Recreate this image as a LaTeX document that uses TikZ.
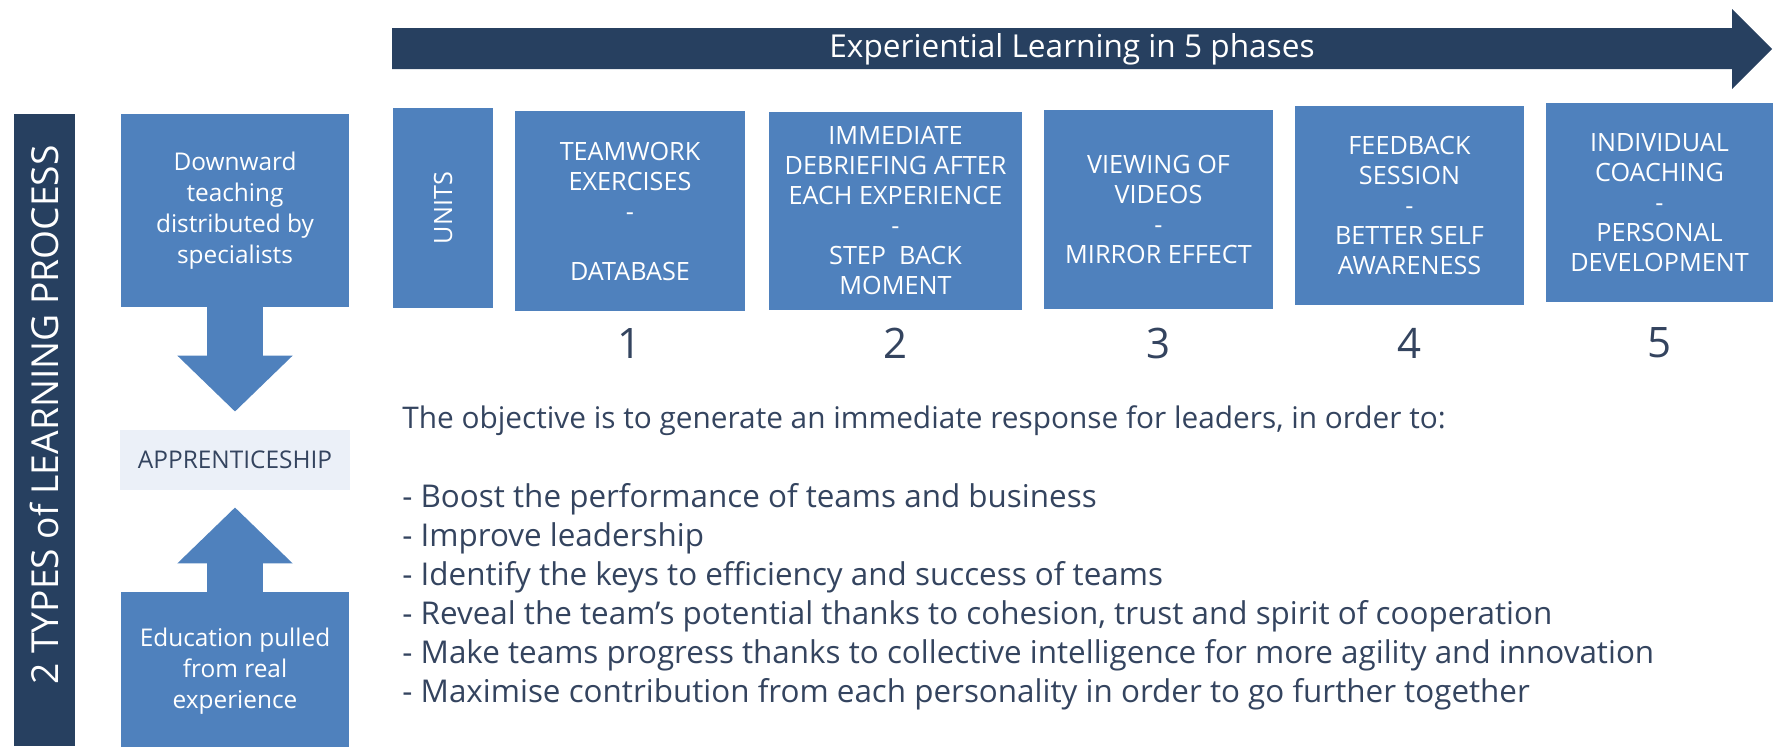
\documentclass[tikz,border=0pt]{standalone}
\usepackage{fontspec}
\setmainfont{Open Sans}
\usepackage{tikz}
\usetikzlibrary{arrows.meta}
\definecolor{navy}{RGB}{39,64,96}
\definecolor{boxblue}{RGB}{79,129,189}
\definecolor{paleblue}{RGB}{235,240,248}
\definecolor{inknavy}{RGB}{52,68,95}

\begin{document}
\begin{tikzpicture}[x=0.5pt,y=-0.5pt,
  phase/.style={fill=boxblue,text=white,align=center,inner sep=0pt,font=\fontsize{12.6}{15}\selectfont},
  side/.style={phase,minimum width=114pt,font=\fontsize{12.2}{15.5}\selectfont},
  num/.style={text=inknavy,font=\fontsize{21}{21}\selectfont},
  blockarrow/.style={boxblue,line width=28pt,-{Triangle[width=56pt,length=28pt]}}]
\useasboundingbox (0,0) rectangle (1774,746);

% timeline arrow
\fill[navy] (392,28) -- (1732,28) -- (1732,9) -- (1772,49) -- (1732,89) -- (1732,69) -- (392,69) -- cycle;
\node[text=white,font=\fontsize{15.8}{16}\selectfont] (timeline) at (1072,49) {Experiential Learning in 5 phases};

% left side
\fill[navy] (14,114) rectangle (75,746);
\node[rotate=90,text=white,font=\fontsize{18.6}{19}\selectfont] (types) at (44.5,415) {2 TYPES of LEARNING PROCESS};
\node[side,minimum height=96.5pt] (down) at (235,210.5) {Downward\\teaching\\distributed by\\specialists};
\node[side,fill=paleblue,text=inknavy,minimum width=115pt,minimum height=30pt] (appr) at (235,460) {APPRENTICESHIP};
\node[side,minimum height=79pt] (up) at (235,671) {Education pulled\\from real\\experience};
\draw[blockarrow,shorten >=9pt] (down.south) -- (appr.north);
\draw[blockarrow,shorten >=8.5pt] (up.north) -- (appr.south);

% phases
\node[phase,rotate=90,minimum width=100pt,minimum height=50pt] (units) at (443,208) {UNITS};
\node[phase,minimum width=115pt,minimum height=100pt] (p1) at (630,211) {TEAMWORK\\EXERCISES\\-\\[15pt]DATABASE};
\node[phase,minimum width=126.5pt,minimum height=99pt] (p2) at (895.5,211) {IMMEDIATE\\DEBRIEFING AFTER\\EACH EXPERIENCE\\-\\STEP~~BACK\\MOMENT};
\node[phase,minimum width=114.5pt,minimum height=99.5pt] (p3) at (1158.5,209.5) {VIEWING OF\\VIDEOS\\-\\MIRROR EFFECT};
\node[phase,minimum width=114.5pt,minimum height=99.5pt] (p4) at (1409.5,205.5) {FEEDBACK\\SESSION\\-\\BETTER SELF\\AWARENESS};
\node[phase,minimum width=113.5pt,minimum height=99.5pt] (p5) at (1659.5,202.5) {INDIVIDUAL\\COACHING\\-\\PERSONAL\\DEVELOPMENT};
\node[num] (n1) at (630,343) {1};
\node[num] (n2) at (895.5,343) {2};
\node[num] (n3) at (1158.5,343) {3};
\node[num] (n4) at (1409.5,343) {4};
\node[num] (n5) at (1659.5,343) {5};

% objectives
\node[anchor=base west,inner sep=0pt,text=inknavy,font=\fontsize{14.9}{19.5}\selectfont] (goal) at (402,428) {The objective is to generate an immediate response for leaders, in order to:};
\node[anchor=base west,align=left,inner sep=0pt,text=inknavy,font=\fontsize{15.7}{19.5}\selectfont] (aims) at (402,702) {- Boost the performance of teams and business\\
- Improve leadership\\
- Identify the keys to efficiency and success of teams\\
- Reveal the team’s potential thanks to cohesion, trust and spirit of cooperation\\
- Make teams progress thanks to collective intelligence for more agility and innovation\\
- Maximise contribution from each personality in order to go further together};
\end{tikzpicture}
\end{document}
